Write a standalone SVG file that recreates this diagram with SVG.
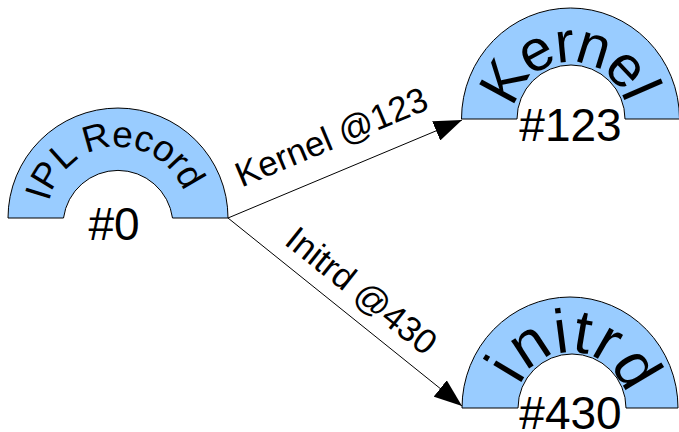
<svg xmlns="http://www.w3.org/2000/svg" width="679" height="432" viewBox="0 0 679 432">
<style>
.arch{fill:#99ccff;stroke:#000;stroke-width:1}
.t{font-family:"Liberation Sans",Arial,sans-serif;fill:#000}
.num{font-size:46px;text-anchor:middle}
.lbl{font-size:35px;text-anchor:middle}
.edge{stroke:#000;stroke-width:1;fill:none}
</style>
<defs>
<marker id="ah" viewBox="0 0 28 21" markerWidth="28" markerHeight="21" refX="28" refY="10.5" orient="auto" markerUnits="userSpaceOnUse">
<path d="M0,0 L28,10.5 L0,21 z" fill="#000"/>
</marker>
<path id="p0" d="M47,218 A71 71 0 0 1 189,218"/>
<path id="p1" d="M513.5,119 A57 57 0 0 1 627.5,119"/>
<path id="p2" d="M515,408 A56 56 0 0 1 627,408"/>
</defs>
<g id="connectors">
<line class="edge" x1="228" y1="218" x2="462" y2="120" marker-end="url(#ah)"/>
<line class="edge" x1="228" y1="218" x2="462" y2="406" marker-end="url(#ah)"/>
<text class="t lbl" transform="translate(336,148) rotate(-22.7)">Kernel @123</text>
<text class="t lbl" transform="translate(354,300) rotate(38.6)">Initrd @430</text>
</g>
<g id="ipl">
<path class="arch" d="M8,218 A110 110 0 0 1 228,218 L172.5,218 A55 55 0 0 0 63.5,218 Z"/>
<text class="t" font-size="37" letter-spacing="-0.5"><textPath href="#p0" startOffset="47.5%" text-anchor="middle">IPL Record</textPath></text>
<text class="t num" x="114" y="240">#0</text>
</g>
<g id="kernel">
<path class="arch" d="M461.5,119 A109 111 0 0 1 679.5,119 L625,119 A54 54 0 0 0 517,119 Z"/>
<text class="t" font-size="58" letter-spacing="-3"><textPath href="#p1" startOffset="47.8%" text-anchor="middle">Kernel</textPath></text>
<text class="t num" x="570.5" y="141">#123</text>
</g>
<g id="initrd">
<path class="arch" d="M462,408 A108 111 0 0 1 678,408 L626,408 A54 54 0 0 0 518,408 Z"/>
<text class="t" font-size="62" letter-spacing="1"><textPath href="#p2" startOffset="53%" text-anchor="middle">initrd</textPath></text>
<text class="t num" x="570.5" y="429">#430</text>
</g>
</svg>
